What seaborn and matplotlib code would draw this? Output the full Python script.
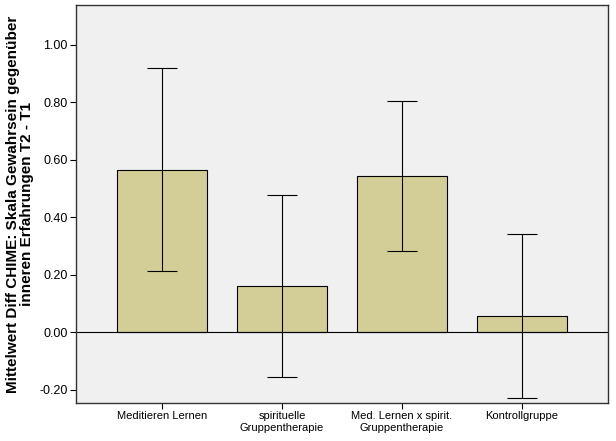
import matplotlib
matplotlib.use("Agg")
import matplotlib.pyplot as plt
import seaborn as sns
import pandas as pd
import numpy as np

categories = ["Meditieren Lernen", "spirituelle\nGruppentherapie",
              "Med. Lernen x spirit.\nGruppentherapie", "Kontrollgruppe"]
means = [0.566, 0.160, 0.542, 0.056]
ci_low = [0.212, -0.157, 0.282, -0.230]
ci_high = [0.918, 0.477, 0.804, 0.341]
yticks = [-0.20, 0.00, 0.20, 0.40, 0.60, 0.80, 1.00]

sns.set_theme(style="white")
plt.rcParams['font.family'] = ['Liberation Sans', 'DejaVu Sans']
plt.rcParams['text.color'] = 'black'
plt.rcParams['axes.labelcolor'] = 'black'
plt.rcParams['xtick.color'] = 'black'
plt.rcParams['ytick.color'] = 'black'

df = pd.DataFrame({"cat": categories, "mean": means})

fig = plt.figure(figsize=(6.16, 4.41), dpi=100)
ax = fig.add_axes([76/616, 1-403/441, (608-76)/616, (403-5)/441])
ax.set_facecolor("#F0F0F0")

sns.barplot(data=df, x="cat", y="mean", ax=ax, color="#D3CE97",
            edgecolor="black", linewidth=0.8, width=0.75, errorbar=None,
            saturation=1, zorder=2)

x = np.arange(len(categories))
m = np.array(means)
lo = m - np.array(ci_low)
hi = np.array(ci_high) - m
ax.errorbar(x, m, yerr=[lo, hi], fmt="none", ecolor="black", elinewidth=0.8,
            capsize=10.8, capthick=0.8, zorder=3)

ax.axhline(0, color="black", linewidth=0.8, zorder=2.5)

ax.set_xlim(-0.717, 3.717)
ax.set_ylim(-0.247, 1.139)
ax.set_yticks(yticks)
ax.set_yticklabels([f"{v:.2f}" for v in yticks], fontsize=9)
ax.set_xticks(x)
ax.set_xticklabels(categories, fontsize=8)
ax.tick_params(axis="both", direction="out", length=4, width=0.8, color="black",
               labelcolor="black", left=True, bottom=True, pad=2)
ax.set_xlabel("")
ax.set_ylabel("Mittelwert Diff CHIME: Skala Gewahrsein gegenüber\ninneren Erfahrungen T2 - T1",
              fontsize=11, fontweight="bold", labelpad=4, linespacing=1.0,
              color="black")
for s in ax.spines.values():
    s.set_color("#333333")
    s.set_linewidth(1.0)

fig.savefig("out.png", dpi=100, facecolor="white")
